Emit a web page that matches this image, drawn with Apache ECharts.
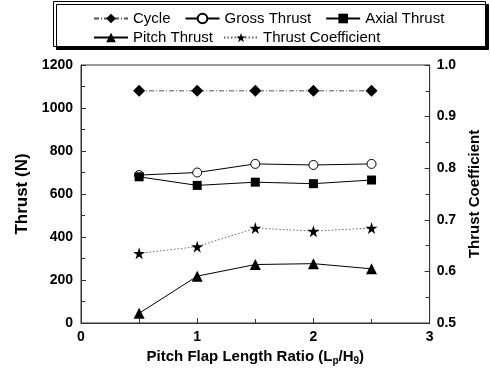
<!DOCTYPE html>
<html><head><meta charset="utf-8">
<script src="https://cdn.jsdelivr.net/npm/echarts@6/dist/echarts.min.js"></script>
<style>html,body{margin:0;padding:0;background:#fff}#c{width:490px;height:371px}</style>
</head><body><div id="c"></div>
<script>
const xValues = [0.5, 1.0, 1.5, 2.0, 2.5];
const cycle = [1080, 1080, 1080, 1080, 1080];
const grossThrust = [688, 700, 740, 735, 740];
const axialThrust = [680, 640, 655, 648, 665];
const pitchThrust = [45, 218, 272, 276, 252];
const thrustCoefficient = [0.635, 0.648, 0.684, 0.678, 0.684];
const seriesNames = ['Cycle', 'Gross Thrust', 'Axial Thrust', 'Pitch Thrust', 'Thrust Coefficient'];

const FONT = "'Liberation Sans', Arial, sans-serif";
const STAR = 'path://M50,0 L61,35 L98,35 L68,57 L79,91 L50,70 L21,91 L32,57 L2,35 L39,35 Z';
const pairs = a => xValues.map((x, i) => [x, a[i]]);

const chart = echarts.init(document.getElementById('c'), null, {renderer: 'canvas'});
const axisCommon = {
  axisLine: {show: true, lineStyle: {color: '#333', width: 1}},
  axisTick: {show: true, inside: true, length: 5, lineStyle: {color: '#333'}},
  minorTick: {show: true, splitNumber: 2, length: 4, lineStyle: {color: '#333'}},
  splitLine: {show: false},
  axisLabel: {fontFamily: FONT, fontWeight: 'bold', fontSize: 14, color: '#000'}
};
const legendText = {fontFamily: FONT, fontSize: 15, color: '#000'};
chart.setOption({
  animation: false,
  grid: {left: 81, right: 48, top: 65, bottom: 41, show: true, borderColor: '#333', borderWidth: 1},
  graphic: [{
    type: 'rect', left: 53, top: 1, z: -1,
    shape: {width: 432, height: 45},
    style: {fill: '#fff', stroke: '#000', lineWidth: 1, shadowColor: '#000', shadowOffsetX: 3, shadowOffsetY: 3, shadowBlur: 0}
  }],
  legend: [{
    data: seriesNames.slice(0, 3), left: 88, top: 6, itemWidth: 34, itemHeight: 12, itemGap: 14,
    textStyle: legendText
  }, {
    data: seriesNames.slice(3), left: 88, top: 25, itemWidth: 34, itemHeight: 12, itemGap: 10,
    textStyle: legendText
  }],
  xAxis: Object.assign({}, axisCommon, {
    type: 'value', min: 0, max: 3, interval: 1,
    axisLabel: Object.assign({}, axisCommon.axisLabel, {margin: 7}),
    name: '{a|Pitch Flap Length Ratio (L}{s|p}{a|/H}{s|9}{a|)}',
    nameLocation: 'middle', nameGap: 25,
    nameTextStyle: {rich: {
      a: {fontFamily: FONT, fontWeight: 'bold', fontSize: 15, color: '#000'},
      s: {fontFamily: FONT, fontWeight: 'bold', fontSize: 10, color: '#000', padding: [8, 0, 0, 0]}
    }}
  }),
  yAxis: [Object.assign({}, axisCommon, {
    type: 'value', min: 0, max: 1200, interval: 200,
    axisLabel: Object.assign({}, axisCommon.axisLabel, {margin: 8, formatter: v => String(v)}),
    name: 'Thrust (N)', nameLocation: 'middle', nameGap: 48, nameRotate: 90,
    nameTextStyle: {fontFamily: FONT, fontWeight: 'bold', fontSize: 17, color: '#000'}
  }), Object.assign({}, axisCommon, {
    type: 'value', min: 0.5, max: 1.0, interval: 0.1, position: 'right',
    axisLabel: Object.assign({}, axisCommon.axisLabel, {margin: 7, formatter: v => v.toFixed(1)}),
    name: 'Thrust Coefficient', nameLocation: 'middle', nameGap: 34, nameRotate: 90,
    nameTextStyle: {fontFamily: FONT, fontWeight: 'bold', fontSize: 15, color: '#000'}
  })],
  series: [{
    name: 'Cycle', type: 'line', data: pairs(cycle), symbol: 'diamond', symbolSize: 12,
    itemStyle: {color: '#000'}, lineStyle: {color: '#555', width: 1, type: [5, 2, 1, 2]}
  }, {
    name: 'Gross Thrust', type: 'line', data: pairs(grossThrust), symbol: 'circle', symbolSize: 9,
    itemStyle: {color: '#fff', borderColor: '#000', borderWidth: 1}, lineStyle: {color: '#000', width: 1}
  }, {
    name: 'Axial Thrust', type: 'line', data: pairs(axialThrust), symbol: 'rect', symbolSize: 9,
    itemStyle: {color: '#000'}, lineStyle: {color: '#000', width: 1}
  }, {
    name: 'Pitch Thrust', type: 'line', data: pairs(pitchThrust), symbol: 'triangle', symbolSize: 11,
    itemStyle: {color: '#000'}, lineStyle: {color: '#000', width: 1}
  }, {
    name: 'Thrust Coefficient', type: 'line', yAxisIndex: 1, data: pairs(thrustCoefficient), symbol: STAR, symbolSize: 12,
    itemStyle: {color: '#000'}, lineStyle: {color: '#666', width: 1, type: [1.5, 2]}
  }]
});
</script></body></html>
